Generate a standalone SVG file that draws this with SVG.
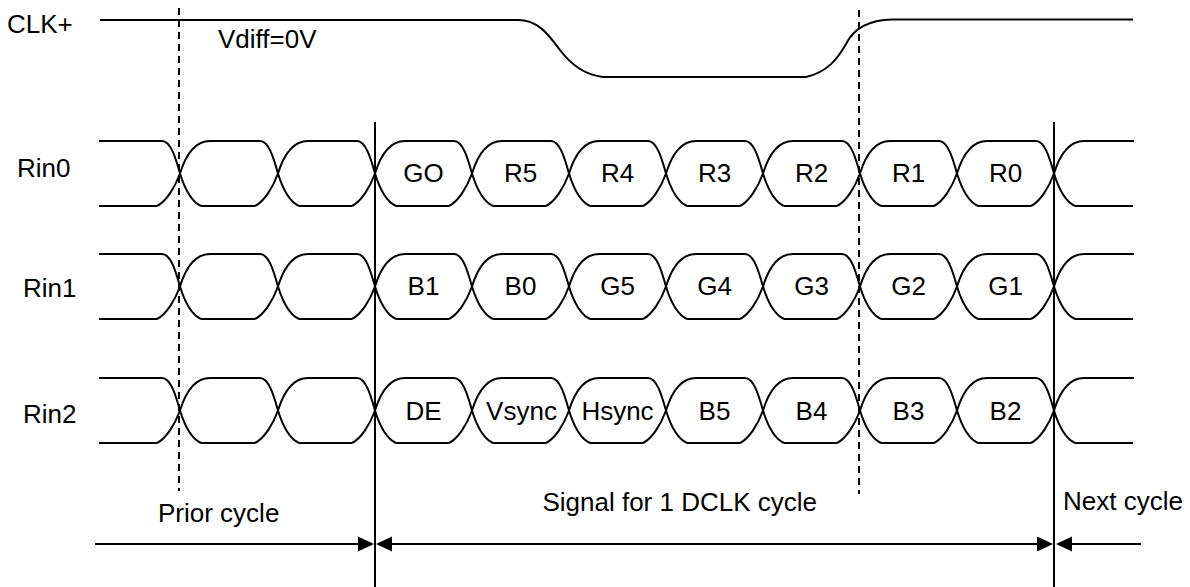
<svg xmlns="http://www.w3.org/2000/svg" width="1190" height="587" viewBox="0 0 1190 587">
<style>
  .w{fill:none;stroke:#000;stroke-width:2;stroke-linejoin:round}
  .d{fill:none;stroke:#000;stroke-width:2;stroke-dasharray:7,5}
  .t{font-family:"Liberation Sans",Arial,sans-serif;font-size:26px;fill:#000}
  .c{text-anchor:middle}
</style>
<defs>
  <marker id="ah" markerUnits="userSpaceOnUse" viewBox="0 0 16 16" markerWidth="16" markerHeight="16" refX="8" refY="8" orient="auto-start-reverse">
    <path d="M0,0.5 L16,8 L0,15.5 Z" fill="#000"/>
  </marker>
  <path id="x" class="w" d="M-18,-32.5 C-9,-32.5 -4,-14 0,0 C4,13 11,28 21,32.5 M-23,32.5 C-14,28 -5,14 0,0 C4,-13 12,-32.5 30,-32.5"/>
  <g id="wave">
    <path class="w" d="M99,-32.5 H162 M210,-32.5 H260 M308,-32.5 H357 M405,-32.5 H454 M502,-32.5 H551 M599,-32.5 H648 M696,-32.5 H745 M793,-32.5 H842 M890,-32.5 H939 M987,-32.5 H1036 M1084,-32.5 H1134"/>
    <path class="w" d="M99,32.5 H157 M201,32.5 H255 M299,32.5 H352 M396,32.5 H449 M493,32.5 H546 M590,32.5 H643 M687,32.5 H740 M784,32.5 H837 M881,32.5 H934 M978,32.5 H1031 M1075,32.5 H1133"/>
    <use href="#x" x="180"/><use href="#x" x="278"/><use href="#x" x="375"/><use href="#x" x="472"/><use href="#x" x="569"/>
    <use href="#x" x="666"/><use href="#x" x="763"/><use href="#x" x="860"/><use href="#x" x="957"/><use href="#x" x="1054"/>
  </g>
</defs>

<g id="clk">
  <text class="t" x="7" y="33">CLK+</text>
  <path class="w" d="M100,20 H518 C538,20 548,34 560,50 C572,66 585,75 603,77 H806 C828,72 838,58 846,44 C852,32 864,20 892,19.5 H1133"/>
  <text class="t" x="218" y="48">Vdiff=0V</text>
</g>

<g id="rin0" transform="translate(0,173.5)">
  <use href="#wave"/>
  <text class="t" x="17" y="3.5">Rin0</text>
  <g class="t c">
    <text x="423.5" y="8.5">GO</text><text x="520.5" y="8.5">R5</text><text x="617.5" y="8.5">R4</text><text x="714.5" y="8.5">R3</text><text x="811.5" y="8.5">R2</text><text x="908.5" y="8.5">R1</text><text x="1005.5" y="8.5">R0</text>
  </g>
</g>

<g id="rin1" transform="translate(0,286.5)">
  <use href="#wave"/>
  <text class="t" x="23" y="10.5">Rin1</text>
  <g class="t c">
    <text x="423.5" y="8.5">B1</text><text x="520.5" y="8.5">B0</text><text x="617.5" y="8.5">G5</text><text x="714.5" y="8.5">G4</text><text x="811.5" y="8.5">G3</text><text x="908.5" y="8.5">G2</text><text x="1005.5" y="8.5">G1</text>
  </g>
</g>

<g id="rin2" transform="translate(0,410.5)">
  <use href="#wave"/>
  <text class="t" x="23" y="12.5">Rin2</text>
  <g class="t c">
    <text x="423.5" y="9.5">DE</text><text x="521.5" y="9.5">Vsync</text><text x="617.5" y="9.5">Hsync</text><text x="714.5" y="9.5">B5</text><text x="811.5" y="9.5">B4</text><text x="908.5" y="9.5">B3</text><text x="1005.5" y="9.5">B2</text>
  </g>
</g>

<g id="labels">
  <text class="t" x="158" y="522">Prior cycle</text>
  <text class="t" x="817" y="511" text-anchor="end">Signal for 1 DCLK cycle</text>
  <text class="t" x="1063" y="510">Next cycle</text>
</g>

<g id="connectors">
  <path class="d" d="M179,8 V491"/>
  <path class="d" d="M859,10 V494"/>
  <path class="w" d="M375,122 V587 M1054,122 V587"/>
  <path class="w" d="M95,544 H366" marker-end="url(#ah)"/>
  <path class="w" d="M384,544 H1045" marker-start="url(#ah)" marker-end="url(#ah)"/>
  <path class="w" d="M1141,544 H1064" marker-end="url(#ah)"/>
</g>
</svg>
